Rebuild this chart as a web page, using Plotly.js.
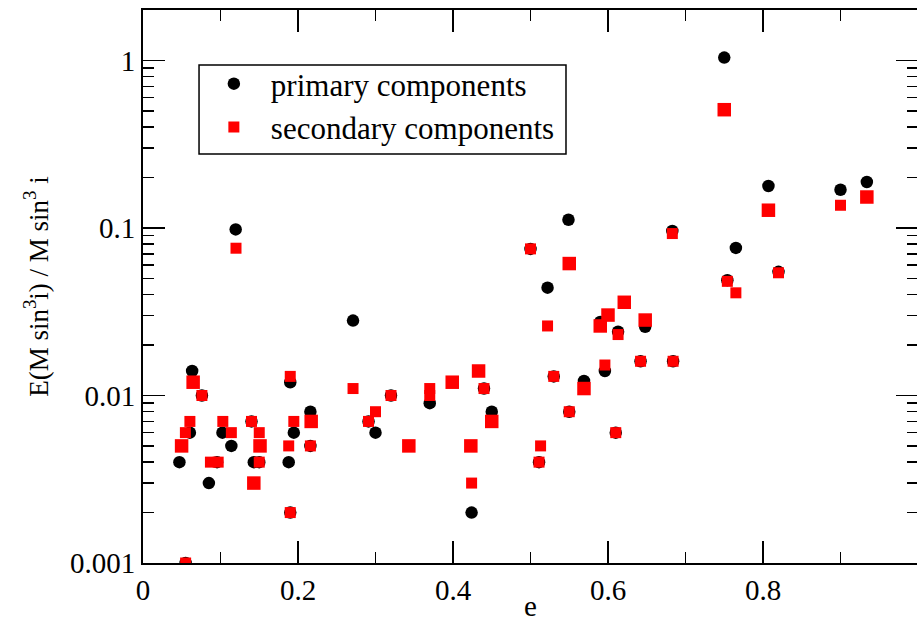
<!DOCTYPE html>
<html>
<head>
<meta charset="utf-8">
<script src="https://cdn.plot.ly/plotly-3.0.1.min.js"></script>
<style>
  html, body { margin: 0; padding: 0; overflow: hidden; background: #fff; }
  #chart { width: 918px; height: 622px; }
</style>
</head>
<body>
<div id="chart"></div>
<script>
// Primary components (black circles)
const primaryE = [0.047, 0.0605, 0.0634, 0.076, 0.085, 0.0956, 0.1025, 0.114, 0.1196, 0.14,
  0.143, 0.150, 0.188, 0.19, 0.1946, 0.19, 0.216, 0.216, 0.055, 0.271,
  0.291, 0.300, 0.320, 0.370, 0.424, 0.440, 0.450, 0.500, 0.511, 0.522,
  0.530, 0.549, 0.550, 0.569, 0.590, 0.596, 0.610, 0.613, 0.642, 0.648,
  0.683, 0.684, 0.750, 0.754, 0.765, 0.807, 0.820, 0.900, 0.934];
const primaryErr = [0.004, 0.006, 0.014, 0.01, 0.003, 0.004, 0.006, 0.005, 0.098, 0.007,
  0.004, 0.004, 0.004, 0.012, 0.006, 0.002, 0.008, 0.005, 0.001, 0.028,
  0.007, 0.006, 0.01, 0.009, 0.002, 0.011, 0.008, 0.075, 0.004, 0.044,
  0.013, 0.112, 0.008, 0.0122, 0.0275, 0.014, 0.006, 0.024, 0.016, 0.0257,
  0.096, 0.016, 1.04, 0.0488, 0.076, 0.178, 0.0547, 0.169, 0.188];

// Secondary components (red squares), two marker sizes in the original
const secondaryE = [0.0547, 0.0605, 0.076, 0.087, 0.097, 0.103, 0.114, 0.12, 0.14, 0.150,
  0.150, 0.188, 0.19, 0.1946, 0.19, 0.216, 0.055, 0.271, 0.320, 0.300,
  0.291, 0.370, 0.370, 0.440, 0.424, 0.683, 0.500, 0.522, 0.613, 0.642,
  0.684, 0.596, 0.530, 0.550, 0.610, 0.513, 0.511, 0.900, 0.754, 0.765, 0.820];
const secondaryErr = [0.006, 0.007, 0.01, 0.004, 0.004, 0.007, 0.006, 0.0757, 0.007, 0.006,
  0.004, 0.005, 0.013, 0.007, 0.002, 0.005, 0.001, 0.011, 0.01, 0.008,
  0.007, 0.011, 0.01, 0.011, 0.003, 0.0926, 0.075, 0.026, 0.0231, 0.016,
  0.016, 0.0152, 0.013, 0.008, 0.006, 0.005, 0.004, 0.1366, 0.048, 0.041, 0.054];

const secondaryBigE = [0.0498, 0.0647, 0.143, 0.151, 0.217, 0.343, 0.399, 0.433, 0.450, 0.423,
  0.550, 0.621, 0.600, 0.590, 0.648, 0.569, 0.750, 0.807, 0.934];
const secondaryBigErr = [0.005, 0.012, 0.003, 0.005, 0.007, 0.005, 0.012, 0.014, 0.007, 0.005,
  0.0613, 0.036, 0.0302, 0.026, 0.0282, 0.011, 0.508, 0.1276, 0.153];

const xTickVals = [0, 0.2, 0.4, 0.6, 0.8, 1];
const xTickText = ['0', '0.2', '0.4', '0.6', '0.8', '1'];
const yTickVals = [0.001, 0.01, 0.1, 1];
const yTickText = ['0.001', '0.01', '0.1', '1'];

const FONT = 'Liberation Serif';

const traces = [
  { x: primaryE, y: primaryErr, type: 'scatter', mode: 'markers', name: 'primary components',
    marker: { symbol: 'circle', color: '#000000', size: 12.5 } },
  { x: secondaryE, y: secondaryErr, type: 'scatter', mode: 'markers', name: 'secondary components',
    marker: { symbol: 'square', color: '#ff0000', size: 11 } },
  { x: secondaryBigE, y: secondaryBigErr, type: 'scatter', mode: 'markers', name: 'secondary components',
    showlegend: false, marker: { symbol: 'square', color: '#ff0000', size: 13.5 } }
];

const layout = {
  width: 918, height: 622,
  margin: { l: 143, r: 0, t: 10, b: 59 },
  paper_bgcolor: '#ffffff', plot_bgcolor: '#ffffff',
  font: { family: FONT, size: 29, color: '#000' },
  showlegend: true,
  legend: {
    x: 0.0695, y: 0.915, xanchor: 'left', yanchor: 'top',
    bgcolor: 'rgba(0,0,0,0)', borderwidth: 0,
    font: { family: FONT, size: 31, color: '#000' },
    itemwidth: 64
  },
  shapes: [{
    type: 'rect', xref: 'paper', yref: 'paper', layer: 'below',
    x0: 0.0723, x1: 0.5458, y0: 0.7396, y1: 0.9005,
    fillcolor: '#ffffff', line: { color: '#000000', width: 1.5 }
  }],
  xaxis: {
    range: [0, 1], showgrid: false, zeroline: false,
    showline: true, linecolor: '#000', linewidth: 2, mirror: 'allticks',
    ticks: 'inside', ticklen: 22, tickwidth: 1.5, tickcolor: '#000',
    tickmode: 'array', tickvals: xTickVals, ticktext: xTickText,
    tickfont: { family: FONT, size: 29 },
    minor: { ticks: 'inside', ticklen: 11, tickwidth: 1.5, tickcolor: '#000', dtick: 0.1, tick0: 0, showgrid: false },
    title: { text: 'e', font: { family: FONT, size: 29 }, standoff: 0 }
  },
  yaxis: {
    type: 'log', range: [-3, Math.log10(2)], showgrid: false, zeroline: false,
    showline: true, linecolor: '#000', linewidth: 2, mirror: 'allticks',
    ticks: 'inside', ticklen: 22, tickwidth: 1.5, tickcolor: '#000',
    tickmode: 'array', tickvals: yTickVals, ticktext: yTickText,
    tickfont: { family: FONT, size: 29 },
    minor: { ticks: 'inside', ticklen: 11, tickwidth: 1.5, tickcolor: '#000', dtick: 'D1', showgrid: false },
    title: { text: 'E(M sin<sup>3</sup>i) / M sin<sup>3</sup> i', font: { family: FONT, size: 27 }, standoff: 14 }
  }
};

Plotly.newPlot('chart', traces, layout, { displayModeBar: false, staticPlot: true });
</script>
</body>
</html>
